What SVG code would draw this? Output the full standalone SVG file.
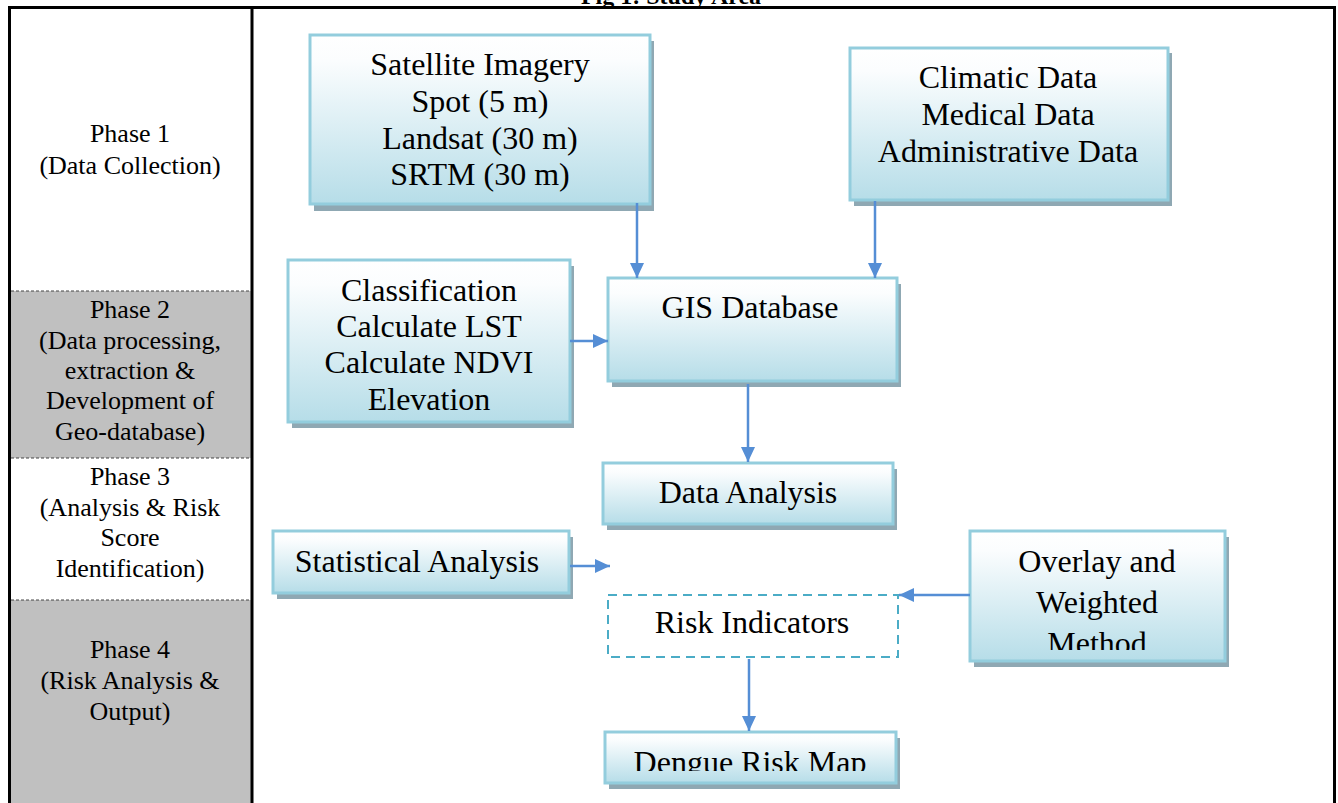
<svg xmlns="http://www.w3.org/2000/svg" width="1338" height="803" viewBox="0 0 1338 803">
<defs>
<linearGradient id="g" x1="0" y1="0" x2="0" y2="1">
<stop offset="0" stop-color="#ffffff"/>
<stop offset="0.15" stop-color="#fbfdfe"/>
<stop offset="1" stop-color="#b6dde8"/>
</linearGradient>
<marker id="ah" markerWidth="10" markerHeight="10" refX="9" refY="5" orient="auto" markerUnits="userSpaceOnUse" viewBox="0 0 10 10">
<path d="M0,0 L10,5 L0,10 z" fill="#558ed5"/>
</marker>
<marker id="a" markerWidth="15" markerHeight="14" refX="15" refY="7" orient="auto" markerUnits="userSpaceOnUse">
<path d="M0,0 L15,7 L0,14 z" fill="#558ed5"/>
</marker>
<clipPath id="c7"><rect x="970" y="531" width="256" height="119"/></clipPath>
<clipPath id="c9"><rect x="605" y="732" width="292" height="39"/></clipPath>
</defs>
<style>
.sh{fill:#8fa8b3}
.bx{fill:url(#g);stroke:#93cddd;stroke-width:3}
.t{font-family:"Liberation Serif","Times New Roman",serif;font-size:32px;fill:#000;text-anchor:middle}
.p{font-family:"Liberation Serif","Times New Roman",serif;font-size:26px;fill:#000;text-anchor:middle}
.sep{stroke:#444;stroke-width:1;stroke-dasharray:3,2}
.ar{stroke:#558ed5;stroke-width:2.5;fill:none;marker-end:url(#a)}
</style>
<rect width="1338" height="803" fill="#fff"/>
<text x="671" y="4" font-family="Liberation Serif, serif" font-weight="bold" font-size="24" text-anchor="middle">Fig 1: Study Area</text>

<g id="phases">
<rect x="11" y="291" width="240" height="167" fill="#c0c0c0"/>
<rect x="11" y="600" width="240" height="210" fill="#c0c0c0"/>
<line class="sep" x1="11" y1="291" x2="251" y2="291"/>
<line class="sep" x1="11" y1="458" x2="251" y2="458"/>
<line class="sep" x1="11" y1="600" x2="251" y2="600"/>
<g id="phase1"><text class="p" x="130" y="142">Phase 1</text><text class="p" x="130" y="174">(Data Collection)</text></g>
<g id="phase2"><text class="p" x="130" y="318">Phase 2</text><text class="p" x="130" y="349">(Data processing,</text><text class="p" x="130" y="379">extraction &amp;</text><text class="p" x="130" y="409">Development of</text><text class="p" x="130" y="440">Geo-database)</text></g>
<g id="phase3"><text class="p" x="130" y="485">Phase 3</text><text class="p" x="130" y="516">(Analysis &amp; Risk</text><text class="p" x="130" y="546">Score</text><text class="p" x="130" y="577">Identification)</text></g>
<g id="phase4"><text class="p" x="130" y="658">Phase 4</text><text class="p" x="130" y="689">(Risk Analysis &amp;</text><text class="p" x="130" y="720">Output)</text></g>
</g>

<g id="frame" fill="none" stroke="#000" stroke-width="3">
<path d="M9.5,810 V7.5 H1334.5 V810"/>
<line x1="252" y1="7.5" x2="252" y2="810"/>
</g>

<g id="n1"><rect class="sh" x="314" y="41" width="340" height="170"/><rect class="bx" x="310" y="35" width="340" height="169"/>
<text class="t" x="480" y="75">Satellite Imagery</text><text class="t" x="480" y="112">Spot (5 m)</text><text class="t" x="480" y="149">Landsat (30 m)</text><text class="t" x="480" y="185">SRTM (30 m)</text></g>

<g id="n2"><rect class="sh" x="854" y="53" width="318" height="153"/><rect class="bx" x="850" y="48" width="318" height="152"/>
<text class="t" x="1008" y="88">Climatic Data</text><text class="t" x="1008" y="125">Medical Data</text><text class="t" x="1008" y="162">Administrative Data</text></g>

<g id="n3"><rect class="sh" x="292" y="266" width="282" height="162"/><rect class="bx" x="288" y="260" width="282" height="162"/>
<text class="t" x="429" y="301">Classification</text><text class="t" x="429" y="337">Calculate LST</text><text class="t" x="429" y="373">Calculate NDVI</text><text class="t" x="429" y="410">Elevation</text></g>

<g id="n4"><rect class="sh" x="612" y="284" width="289" height="103"/><rect class="bx" x="608" y="278" width="289" height="103"/>
<text class="t" x="750" y="318">GIS Database</text></g>

<g id="n5"><rect class="sh" x="607" y="469" width="290" height="61"/><rect class="bx" x="603" y="463" width="290" height="61"/>
<text class="t" x="748" y="503">Data Analysis</text></g>

<g id="n6"><rect class="sh" x="277" y="537" width="296" height="62"/><rect class="bx" x="273" y="531" width="296" height="62"/>
<text class="t" x="417" y="572">Statistical Analysis</text></g>

<g id="n7"><rect class="sh" x="974" y="537" width="255" height="130"/><rect class="bx" x="970" y="531" width="255" height="130"/>
<g clip-path="url(#c7)"><text class="t" x="1097" y="572">Overlay and</text><text class="t" x="1097" y="613">Weighted</text><text class="t" x="1097" y="654">Method</text></g></g>

<g id="n8"><rect x="608" y="595" width="290" height="62" fill="#fff" stroke="#4bacc6" stroke-width="2" stroke-dasharray="9,6"/>
<text class="t" x="752" y="633">Risk Indicators</text></g>

<g id="n9"><rect class="sh" x="609" y="738" width="291" height="51"/><rect class="bx" x="605" y="732" width="291" height="51"/>
<g clip-path="url(#c9)"><text class="t" x="750" y="773">Dengue Risk Map</text></g></g>

<g id="connectors">
<line class="ar" x1="637" y1="203" x2="637" y2="278"/>
<line class="ar" x1="875" y1="201" x2="875" y2="278"/>
<line class="ar" x1="570" y1="341" x2="608" y2="341"/>
<line class="ar" x1="748" y1="384" x2="748" y2="462"/>
<line class="ar" x1="570" y1="566" x2="610" y2="566"/>
<line class="ar" x1="970" y1="595" x2="899" y2="595"/>
<line class="ar" x1="749" y1="659" x2="749" y2="731"/>
</g>
</svg>
